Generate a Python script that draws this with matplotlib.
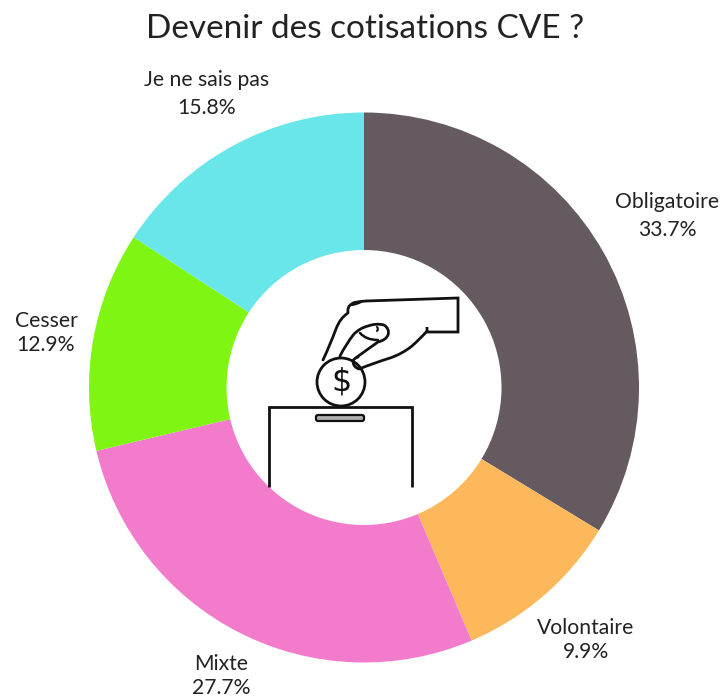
import matplotlib
matplotlib.use("Agg")
import matplotlib.pyplot as plt
from matplotlib.patches import Circle, FancyBboxPatch, PathPatch
from matplotlib.path import Path

labels = ["Obligatoire", "Volontaire", "Mixte", "Cesser", "Je ne sais pas"]
values = [33.7, 9.9, 27.7, 12.9, 15.8]
colors = ["#655a60", "#fdb85c", "#f27ccb", "#7ff514", "#68e6ea"]
title = "Devenir des cotisations CVE ?"

W, H = 726, 698
fig = plt.figure(figsize=(W / 100, H / 100), dpi=100)
plt.rcParams["font.family"] = ["Lato", "DejaVu Sans"]

cx, cy, R = 364, 387.5, 275
ax = fig.add_axes([(cx - R) / W, 1 - (cy + R) / H, 2 * R / W, 2 * R / H])
ax.pie(values, colors=colors, startangle=90, counterclock=False, radius=1,
       wedgeprops=dict(width=0.5, linewidth=0))
ax.set_xlim(-1, 1)
ax.set_ylim(-1, 1)
ax.set_aspect("equal")
ax.axis("off")

ov = fig.add_axes([0, 0, 1, 1])
ov.set_xlim(0, W)
ov.set_ylim(H, 0)
ov.axis("off")
ov.patch.set_alpha(0)

ov.text(365, 29, title, ha="center", va="center", fontsize=24, color="#222222")
pos = [(667, 216), (586, 640), (221, 676), (46, 333), (207, 94)]
spacing = [1.5, 1.25, 1.25, 1.25, 1.5]
for l, v, (x, y), s in zip(labels, values, pos, spacing):
    ov.text(x, y, f"{l}\n{v}%", ha="center", va="center", fontsize=15.2,
            color="#222222", linespacing=s, multialignment="center")

INK = "#111111"
k = dict(color=INK, lw=2, solid_capstyle="butt", solid_joinstyle="miter")
# ballot box
ov.plot([269, 269, 412, 412], [487, 407, 407, 487], **k)
ov.add_patch(FancyBboxPatch((316, 415), 48, 6, boxstyle="round,pad=0,rounding_size=2",
                            fc="#b0b0b0", ec=INK, lw=1.6))
# coin
ov.add_patch(Circle((341, 382), 24, fc="white", ec=INK, lw=2))
ov.text(341, 382, "$", ha="center", va="center", fontsize=23, color=INK,
        family="DejaVu Sans", parse_math=False)


def curve(points):
    """Smooth icon outline: first point, then (control, end) pairs."""
    verts = [points[0]] + list(points[1:])
    codes = [Path.MOVETO] + [Path.CURVE3] * (len(points) - 1)
    return Path(verts, codes)


def stroke(points, lw=2):
    ov.add_patch(PathPatch(curve(points), fc="none", ec=INK, lw=lw,
                           capstyle="round", joinstyle="round"))


# cuff
ov.plot([366, 458, 458, 427, 427], [301, 298, 332, 332, 327],
        color=INK, lw=2, solid_joinstyle="miter", solid_capstyle="butt")
# back of the hand down to the coin
stroke([(366, 301), (352, 302), (352, 304), (347, 306), (348, 313),
        (340, 318), (336, 329), (330, 345), (323, 360)])
# knuckle
stroke([(352, 305), (358, 304), (361, 302)], 1.5)
# palm, under the thumb
stroke([(427, 331), (421, 338), (412, 346), (402, 354), (390, 358),
        (374, 363), (359, 369), (353, 367), (353, 361), (354, 358), (358, 357)])
# thumb
stroke([(340, 356), (346, 344), (354, 334), (360, 328), (368, 326),
        (376, 323), (384, 325), (390, 329), (388, 335), (386, 340), (378, 342),
        (368, 349), (357, 357)])
# thumbnail
stroke([(360, 333), (366, 340), (378, 340)], 1.8)
stroke([(377, 327), (379, 329), (377, 331)], 1.5)
fig.savefig("out.png", dpi=100)
